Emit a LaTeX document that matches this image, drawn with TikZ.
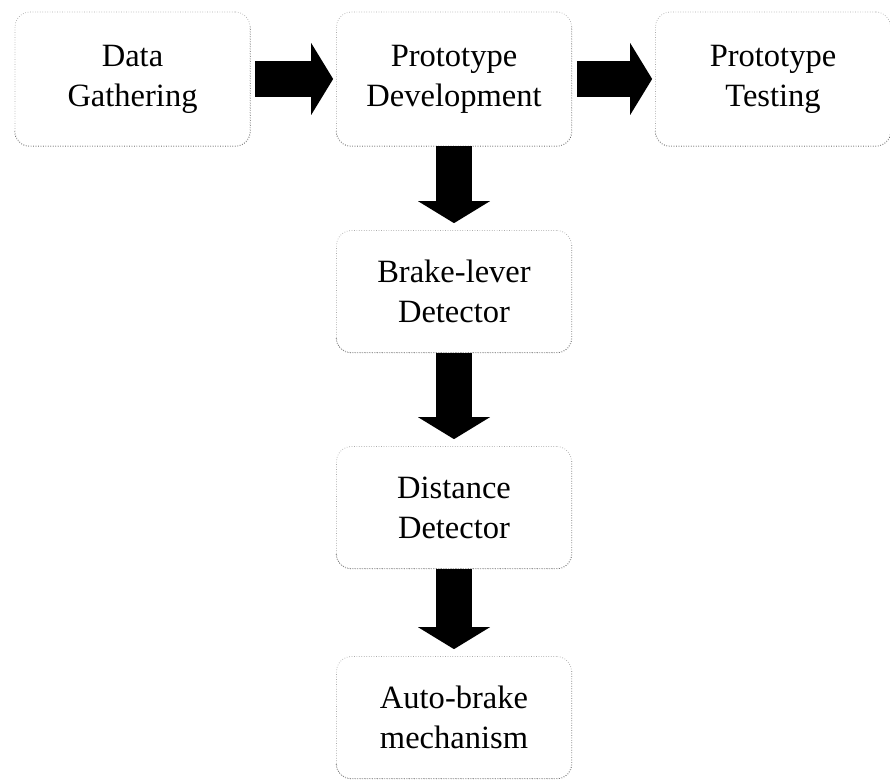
\documentclass[tikz,border=0pt]{standalone}
\usepackage{fontspec}
\setmainfont{Liberation Serif}
\usetikzlibrary{arrows.meta}

\begin{document}
\begin{tikzpicture}[every node/.style={font=\fontsize{18.5}{22.8}\selectfont}]
  % Colors
  \definecolor{boxline}{RGB}{170,170,170}
  \definecolor{edgeline}{RGB}{90,90,90}
  \tikzset{
    stage/.style={draw=boxline, densely dotted, rounded corners=0.3cm,
      minimum width=4.7cm, minimum height=2.44cm, align=center, inner sep=0pt,
      append after command={\pgfextra{
        \draw[edgeline, densely dotted, rounded corners=0.3cm]
          ([yshift=-0.3cm]\tikzlastnode.north east) -- (\tikzlastnode.south east)
          -- (\tikzlastnode.south west) -- ([yshift=0.3cm]\tikzlastnode.south west);}}},
    toprow/.style={stage, minimum height=2.68cm},
    bigarrow/.style={line width=0.72cm,
      -{Triangle[width=1.44cm, length=0.44cm, line width=0pt]}},
  }
  \useasboundingbox (0,0) rectangle (17.8,15.64);

  % Top row
  \node[toprow] (gather) at (2.65,14.06) {Data\\Gathering};
  \node[toprow] (develop) at (9.08,14.06) {Prototype\\Development};
  \node[toprow] (testing) at (15.46,14.06) {Prototype\\Testing};

  % Development column
  \node[stage] (lever) at (9.08,9.81) {Brake-lever\\Detector};
  \node[stage] (distance) at (9.08,5.49) {Distance\\Detector};
  \node[stage] (autobrake) at (9.08,1.29) {Auto-brake\\mechanism};

  % Block arrows
  \draw[bigarrow, shorten <=0.1cm, shorten >=0.06cm] (gather) -- (develop);
  \draw[bigarrow, shorten <=0.1cm, shorten >=0.06cm] (develop) -- (testing);
  \draw[bigarrow, shorten >=0.14cm] (develop) -- (lever);
  \draw[bigarrow, shorten >=0.14cm] (lever) -- (distance);
  \draw[bigarrow, shorten >=0.14cm] (distance) -- (autobrake);
\end{tikzpicture}
\end{document}
